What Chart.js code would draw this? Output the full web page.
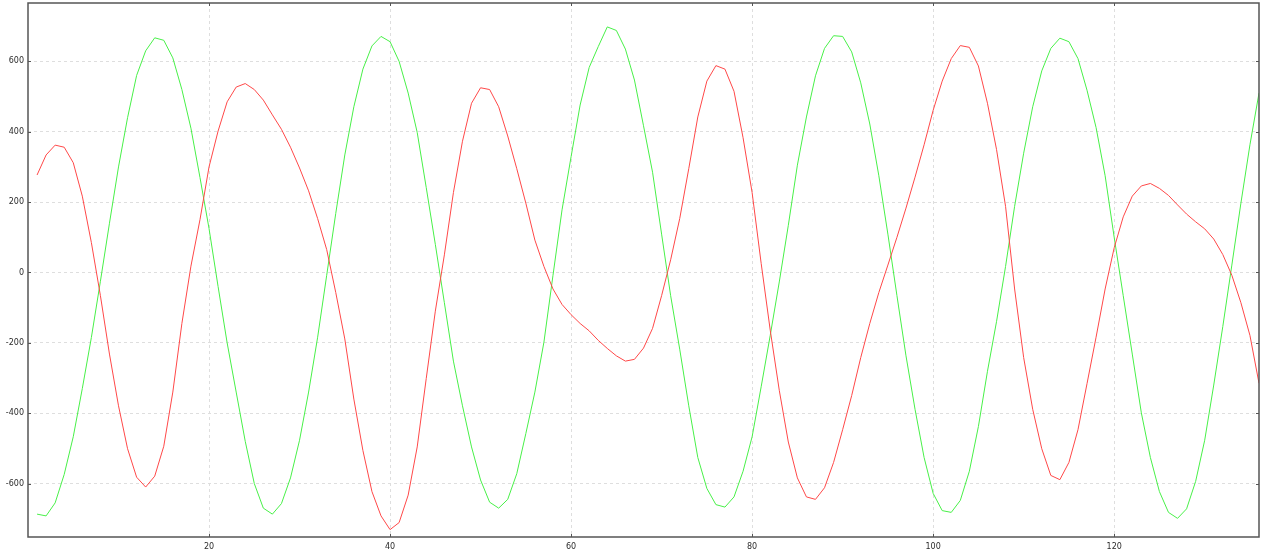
<!DOCTYPE html>
<html>
<head>
<meta charset="utf-8">
<script src="https://cdn.jsdelivr.net/npm/chart.js@4.4.1/dist/chart.umd.min.js"></script>
<style>
  html, body { margin: 0; padding: 0; background: #fff; }
  #wrap { width: 1266px; height: 556px; }
</style>
</head>
<body>
<div id="wrap"><canvas id="waveChart" width="1266" height="556"></canvas></div>
<script>
// values, one per step (x = 1 .. 136)
const redSeries = [
  277, 334, 362, 356, 312, 217, 85, -66, -232, -379,
  -501, -582, -610, -579, -494, -340, -145, 18, 150, 300,
  402, 485, 527, 537, 520, 490, 448, 407, 356, 297,
  232, 153, 65, -57, -189, -360, -506, -623, -692, -731,
  -711, -633, -496, -301, -110, 50, 227, 373, 481, 525,
  520, 471, 388, 295, 197, 92, 17, -47, -91, -120,
  -145, -166, -193, -216, -237, -252, -247, -215, -159, -66,
  36, 153, 295, 442, 544, 588, 578, 515, 383, 227,
  26, -164, -335, -482, -584, -638, -645, -612, -540, -447,
  -350, -242, -145, -57, 21, 100, 183, 271, 363, 461,
  544, 608, 645, 640, 587, 481, 350, 188, -47, -242,
  -389, -501, -577, -589, -540, -447, -316, -184, -47, 70,
  158, 217, 246, 253, 239, 219, 192, 166, 144, 124,
  95, 51, -8, -86, -179, -315
];
const greenSeries = [
  -687, -692, -655, -574, -467, -330, -185, -25, 140, 300,
  440, 560, 630, 667, 660, 610, 520, 410, 270, 125,
  -40, -200, -340, -480, -600, -670, -687, -657, -584, -477,
  -340, -184, -8, 168, 334, 471, 578, 644, 671, 656,
  600, 510, 398, 241, 80, -86, -252, -379, -496, -590,
  -653, -670, -645, -572, -458, -340, -198, -8, 178, 329,
  476, 583, 642, 698, 688, 635, 547, 417, 285, 109,
  -66, -218, -379, -526, -614, -660, -667, -638, -565, -467,
  -325, -179, -27, 134, 305, 442, 559, 637, 673, 671,
  627, 539, 422, 275, 109, -66, -237, -389, -526, -628,
  -677, -682, -648, -565, -438, -281, -140, 17, 188, 339,
  471, 573, 637, 666, 656, 608, 518, 412, 275, 100,
  -66, -232, -399, -526, -623, -682, -699, -672, -594, -477,
  -320, -154, 21, 197, 363, 510
];
const xTickValues = [20, 40, 60, 80, 100, 120];
const yTickValues = [-600, -400, -200, 0, 200, 400, 600];

const toPoints = arr => arr.map((v, i) => ({ x: i + 1, y: v }));

// frame round the plot area plus short inward tick marks on all four sides
const framePlugin = {
  id: 'frame',
  afterDraw(chart) {
    const { ctx, chartArea: a, scales } = chart;
    ctx.save();
    ctx.strokeStyle = '#555';
    ctx.lineWidth = 1.5;
    ctx.strokeRect(a.left, a.top, a.right - a.left, a.bottom - a.top);
    ctx.lineWidth = 1;
    ctx.beginPath();
    xTickValues.forEach(v => {
      const px = Math.round(scales.x.getPixelForValue(v)) + 0.5;
      ctx.moveTo(px, a.bottom); ctx.lineTo(px, a.bottom - 3);
      ctx.moveTo(px, a.top); ctx.lineTo(px, a.top + 3);
    });
    yTickValues.forEach(v => {
      const py = Math.round(scales.y.getPixelForValue(v)) + 0.5;
      ctx.moveTo(a.left, py); ctx.lineTo(a.left + 3, py);
      ctx.moveTo(a.right, py); ctx.lineTo(a.right - 3, py);
    });
    ctx.stroke();
    ctx.restore();
  }
};

const ctx = document.getElementById('waveChart').getContext('2d');
new Chart(ctx, {
  type: 'line',
  data: {
    datasets: [
      {
        label: 'red',
        data: toPoints(redSeries),
        borderColor: 'rgb(255, 72, 72)',
        borderWidth: 1,
        pointRadius: 0,
        tension: 0
      },
      {
        label: 'green',
        data: toPoints(greenSeries),
        borderColor: 'rgb(72, 240, 72)',
        borderWidth: 1,
        pointRadius: 0,
        tension: 0
      }
    ]
  },
  options: {
    responsive: false,
    animation: false,
    layout: { padding: { top: 3, right: 7, left: 0, bottom: 0 } },
    plugins: {
      legend: { display: false },
      tooltip: { enabled: false }
    },
    scales: {
      x: {
        type: 'linear',
        min: 0,
        max: 136,
        afterBuildTicks: s => { s.ticks = xTickValues.map(v => ({ value: v })); },
        afterFit: s => { s.height = 19; s.paddingLeft = 0; s.paddingRight = 0; },
        grid: { color: '#dedede', drawTicks: false },
        border: { display: false, dash: [3, 3] },
        ticks: {
          padding: 5,
          color: '#2b2b2b',
          font: { family: 'DejaVu Sans', size: 8 }
        }
      },
      y: {
        type: 'linear',
        min: -752,
        max: 766,
        afterBuildTicks: s => { s.ticks = yTickValues.map(v => ({ value: v })); },
        afterFit: s => { s.width = 28; s.paddingTop = 0; s.paddingBottom = 0; },
        grid: { color: '#dedede', drawTicks: false },
        border: { display: false, dash: [3, 3] },
        ticks: {
          padding: 4,
          color: '#2b2b2b',
          font: { family: 'DejaVu Sans', size: 8 }
        }
      }
    }
  },
  plugins: [framePlugin]
});
</script>
</body>
</html>
